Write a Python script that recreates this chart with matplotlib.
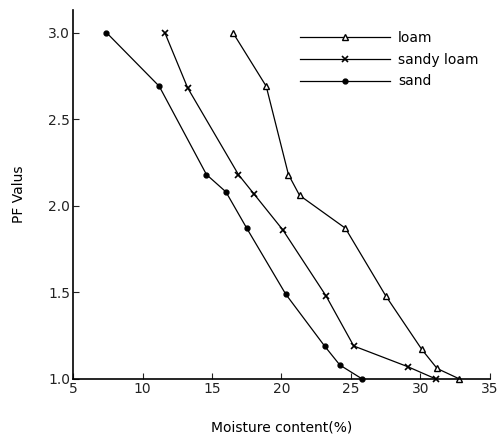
import numpy as np
from matplotlib import pyplot as plt

# values
loam_x = [16.5, 18.9, 20.5, 21.3, 24.6, 27.5, 30.1, 31.2, 32.8]
loam_y = [3.0, 2.69, 2.18, 2.06, 1.87, 1.48, 1.17, 1.06, 1.0]

sandy_x = [11.6, 13.25, 16.9, 18.0, 20.1, 23.2, 25.2, 29.1, 31.1]
sandy_y = [3.0, 2.68, 2.18, 2.07, 1.86, 1.48, 1.19, 1.07, 1.0]

sand_x = [7.4, 11.2, 14.6, 16.0, 17.5, 20.3, 23.1, 24.2, 25.8]
sand_y = [3.0, 2.69, 2.18, 2.08, 1.87, 1.49, 1.19, 1.08, 1.0]

xticks = [5, 10, 15, 20, 25, 30, 35]
yticks = [1.0, 1.5, 2.0, 2.5, 3.0]

fig = plt.figure(figsize=(5.04, 4.37), dpi=100)
ax = fig.add_axes([0.145, 0.133, 0.827, 0.844])

ax.plot(loam_x, loam_y, color='black', lw=0.9, marker='^', ms=5,
        mfc='white', mec='black', label='loam', clip_on=False)
ax.plot(sandy_x, sandy_y, color='black', lw=0.9, marker='x', ms=5,
        mew=1.2, label='sandy loam', clip_on=False)
ax.plot(sand_x, sand_y, color='black', lw=0.9, marker='o', ms=3.5,
        label='sand', clip_on=False)

ax.set_xlim(5, 35)
ax.set_ylim(1.0, 3.13)
ax.set_xticks(xticks)
ax.set_yticks(yticks)
ax.set_yticklabels(['1.0', '1.5', '2.0', '2.5', '3.0'])
ax.tick_params(direction='in', length=4, width=0.8, labelsize=10,
               colors='#222222')
ax.tick_params(axis='x', pad=2)
ax.tick_params(axis='y', pad=2)

for s in ['top', 'right']:
    ax.spines[s].set_visible(False)
for s in ['left', 'bottom']:
    ax.spines[s].set_linewidth(1.2)

ax.set_xlabel('Moisture content(%)', fontsize=10, labelpad=18)
ax.set_ylabel('PF Valus', fontsize=10, labelpad=16)

ax.legend(loc='upper left', bbox_to_anchor=(0.53, 0.958), frameon=False,
          handlelength=6.5, numpoints=1, fontsize=10, handletextpad=0.6,
          labelspacing=0.55, borderaxespad=0)

plt.savefig('out.png', dpi=100)
